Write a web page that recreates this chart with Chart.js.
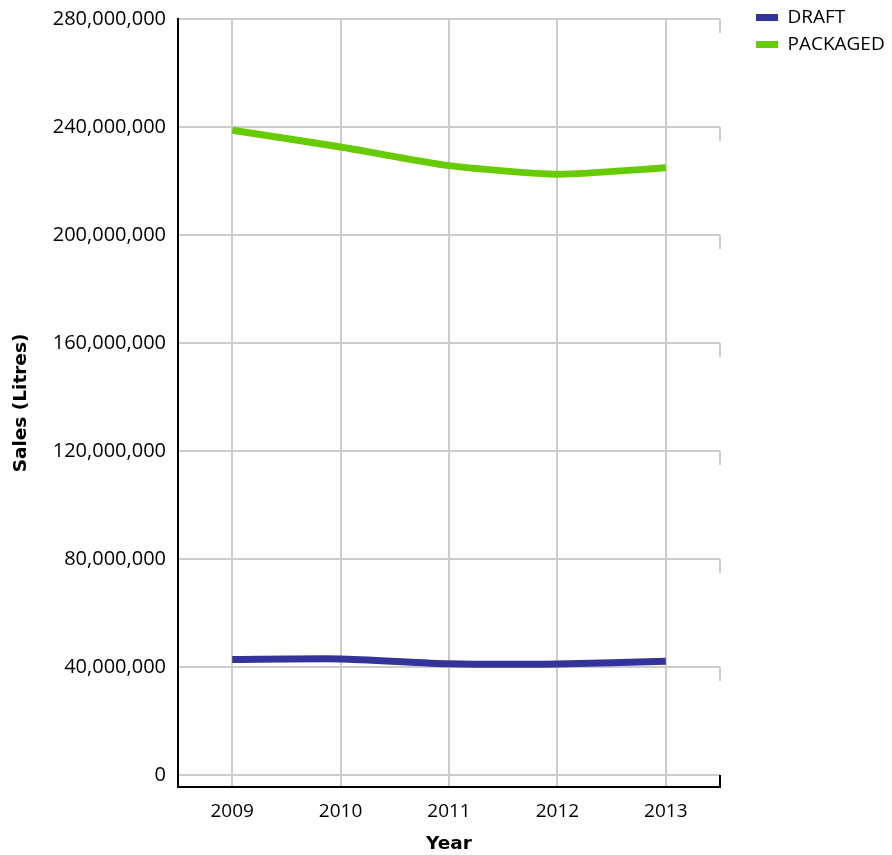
<!DOCTYPE html>
<html lang="en">
  <head>
    <meta charset="UTF-8" />
    <title>Beer Sales</title>
    <script src="https://cdn.jsdelivr.net/npm/chart.js"></script>
    <style>
      html, body { margin: 0; padding: 0; background: #fff; }
      #wrap { width: 892px; height: 855px; }
    </style>
  </head>
  <body>
    <div id="wrap"><canvas id="myChart" width="892" height="855"></canvas></div>
    <script>
      const years = ["2009", "2010", "2011", "2012", "2013"];
      const draft = [42800000, 43000000, 41200000, 41100000, 42100000];
      const packaged = [238800000, 232600000, 225700000, 222500000, 224900000];
      const yTicks = [0, 40000000, 80000000, 120000000, 160000000, 200000000, 240000000, 280000000];

      const FONT = "'Open Sans', sans-serif";
      const TITLE_FONT = "'DejaVu Sans', sans-serif";
      const GRID = "#cccccc";

      // little grey hooks at the right end of each horizontal grid line
      const stubs = {
        id: "stubs",
        afterDraw(chart) {
          const ctx = chart.ctx;
          const y = chart.scales.y;
          const r = chart.chartArea.right;
          ctx.save();
          ctx.lineWidth = 2;
          ctx.strokeStyle = GRID;
          yTicks.forEach((v) => {
            if (v === 0) return;
            const py = y.getPixelForValue(v);
            ctx.beginPath();
            ctx.moveTo(r, py);
            ctx.lineTo(r, py + 14);
            ctx.stroke();
          });
          ctx.strokeStyle = "#000";
          ctx.beginPath();
          ctx.moveTo(r, chart.chartArea.bottom);
          ctx.lineTo(r, y.getPixelForValue(0));
          ctx.stroke();
          ctx.restore();
        }
      };

      new Chart(document.getElementById("myChart"), {
        type: "line",
        data: {
          labels: years,
          datasets: [
            {
              label: "DRAFT",
              data: draft,
              borderColor: "#333399",
              backgroundColor: "#333399",
              borderWidth: 7,
              pointRadius: 0,
              tension: 0.2
            },
            {
              label: "PACKAGED",
              data: packaged,
              borderColor: "#66cc00",
              backgroundColor: "#66cc00",
              borderWidth: 7,
              pointRadius: 0,
              tension: 0.2
            }
          ]
        },
        options: {
          responsive: false,
          animation: false,
          layout: { padding: 0 },
          plugins: {
            tooltip: { enabled: false },
            legend: {
              position: "right",
              align: "start",
              maxWidth: 144,
              labels: {
                boxWidth: 22,
                boxHeight: 7,
                padding: 8,
                color: "#000",
                font: { family: FONT, size: 19 },
                generateLabels(chart) {
                  const items = Chart.defaults.plugins.legend.labels.generateLabels(chart);
                  return items.map((it) => ({ ...it, lineWidth: 0 }));
                }
              }
            }
          },
          scales: {
            x: {
              offset: true,
              grid: { color: GRID, lineWidth: 2, offset: false, drawTicks: false },
              border: { color: "#000", width: 2 },
              ticks: { color: "#000", padding: 13, font: { family: FONT, size: 19 } },
              title: {
                display: true,
                text: "Year",
                color: "#000",
                padding: { top: 0, bottom: 0 },
                font: { family: TITLE_FONT, size: 18.5, weight: "bold" }
              },
              afterFit(s) { s.height = 68; }
            },
            y: {
              min: -4444444,
              max: 280000000,
              afterBuildTicks(s) { s.ticks = yTicks.map((v) => ({ value: v })); },
              grid: { color: GRID, lineWidth: 2, drawTicks: false },
              border: { color: "#000", width: 2 },
              ticks: {
                color: "#000",
                padding: 12,
                font: { family: FONT, size: 20 },
                callback: (v) => v.toLocaleString("en-US")
              },
              title: {
                display: true,
                text: "Sales (Litres)",
                color: "#000",
                padding: { top: 10, bottom: 0 },
                font: { family: TITLE_FONT, size: 18.5, weight: "bold" }
              },
              afterFit(s) { s.width = 178; s.paddingTop = 19; }
            },
            y2: {
              position: "right",
              display: true,
              grid: { display: false },
              border: { display: false },
              ticks: { display: false },
              afterFit(s) { s.width = 28; }
            }
          }
        },
        plugins: [stubs]
      });
    </script>
  </body>
</html>
